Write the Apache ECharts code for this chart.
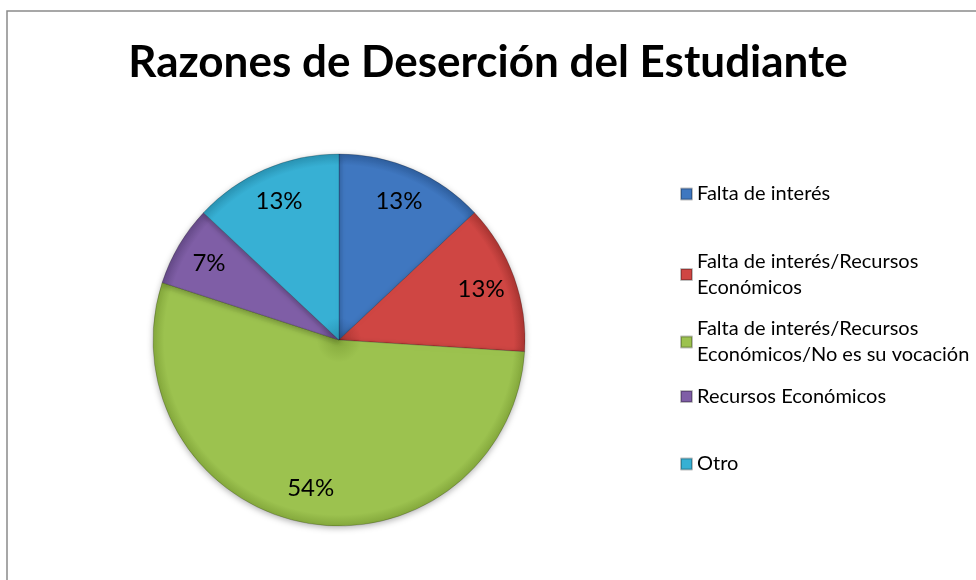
<!doctype html>
<html>
<head>
<meta charset="utf-8">
<script src="https://cdn.jsdelivr.net/npm/echarts@6/dist/echarts.min.js"></script>
<style>
    html, body { margin: 0; padding: 0; background: #fff; }
    #chart { width: 976px; height: 580px; }
</style>
</head>
<body>
<div id="chart"></div>
<script>
    let titleText = 'Razones de Deserción del Estudiante';
    let categories = [
        'Falta de interés',
        'Falta de interés/Recursos\nEconómicos',
        'Falta de interés/Recursos\nEconómicos/No es su vocación',
        'Recursos Económicos',
        'Otro'
    ];
    let percents = [13, 13, 54, 7, 13];

    let baseColors = ['#3f77c0', '#cf4643', '#9cc24f', '#7f5ea6', '#37b0d4'];
    let darkColors = ['#2f5f9e', '#a93532', '#84a83c', '#654a88', '#2a93b3'];

    let chart = echarts.init(document.getElementById('chart'));

    // gradient tied to the whole pie (global coords) for the bevel look
    function sliceColor(i) {
        return {
            type: 'radial', x: 339, y: 340, r: 186, global: true,
            colorStops: [
                {offset: 0, color: darkColors[i]},
                {offset: 0.12, color: baseColors[i]},
                {offset: 0.94, color: baseColors[i]},
                {offset: 1, color: darkColors[i]}
            ]
        };
    }

    let pieData = [];
    let labelData = [];
    for (let i = 0; i < categories.length; i++) {
        pieData.push({name: categories[i], value: percents[i], itemStyle: {color: sliceColor(i)}});
        labelData.push({name: categories[i], value: percents[i]});
    }

    // one legend per item so every row sits in an equal slot, like Excel does
    let legends = [];
    for (let i = 0; i < categories.length; i++) {
        legends.push({
            orient: 'vertical',
            left: 675,
            top: 179 + i * 67.5,
            data: [{name: categories[i], icon: 'rect', itemStyle: {color: baseColors[i]}}],
            itemWidth: 11,
            itemHeight: 11,
            selectedMode: false,
            textStyle: {
                fontFamily: 'Lato',
                fontSize: 20,
                color: '#000',
                lineHeight: 26,
                verticalAlign: 'top',
                padding: [-6, 0, 0, 0]
            }
        });
    }

    chart.setOption({
        animation: false,
        title: {
            text: titleText,
            left: 'center',
            top: 36,
            textStyle: {fontFamily: 'Lato', fontWeight: 'bold', fontSize: 44, color: '#000'}
        },
        graphic: [{
            type: 'rect',
            shape: {x: 7, y: 11, width: 1000, height: 600},
            style: {fill: 'none', stroke: '#8a8a8a', lineWidth: 1.5},
            silent: true
        }],
        legend: legends,
        series: [{
            type: 'pie',
            center: [339, 340],
            radius: [0, 186],
            startAngle: 90,
            clockwise: true,
            label: {show: false},
            labelLine: {show: false},
            itemStyle: {
                borderColor: 'rgba(0,0,0,0.25)',
                borderWidth: 0.8,
                shadowBlur: 6,
                shadowOffsetY: 2,
                shadowColor: 'rgba(0,0,0,0.3)'
            },
            emphasis: {disabled: true},
            data: pieData
        }, {
            type: 'pie',
            center: [339, 340],
            radius: [110, 186],
            startAngle: 90,
            clockwise: true,
            silent: true,
            itemStyle: {color: 'rgba(0,0,0,0)'},
            label: {
                show: true,
                position: 'inside',
                formatter: '{d}%',
                fontFamily: 'Lato',
                fontSize: 24,
                color: '#000'
            },
            labelLine: {show: false},
            data: labelData
        }]
    });
</script>
</body>
</html>
